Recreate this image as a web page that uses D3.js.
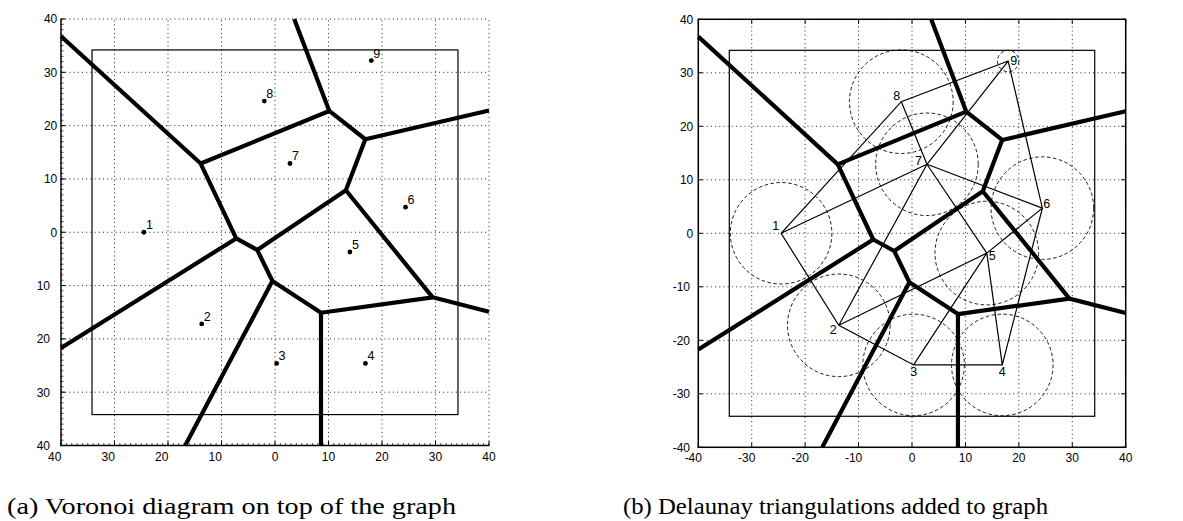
<!DOCTYPE html>
<html>
<head>
<meta charset="utf-8">
<script src="https://cdn.jsdelivr.net/npm/d3@7"></script>
<style>
  body { margin: 0; background: #fff; }
  svg { display: block; }
  .sans { font-family: "Liberation Sans", Arial, Helvetica, sans-serif; }
  .serif { font-family: "Liberation Serif", "Times New Roman", serif; }
</style>
</head>
<body>
<script>
// sensor sites (data units)
const siteIds = ['1', '2', '3', '4', '5', '6', '7', '8', '9'];
const siteX   = [-24.5, -13.7, 0.3, 16.9, 14.0, 24.4, 2.8, -2.0, 18.0];
const siteY   = [0.0, -17.2, -24.6, -24.6, -3.7, 4.7, 12.9, 24.6, 32.2];
// dashed circle radius around each site (panel b)
const siteR   = [9.5, 9.6, 9.5, 9.5, 9.7, 9.6, 9.6, 9.7, 2.0];
// half side of the inner square area
const areaHalf = 34.2;
const tickVals = [-40, -30, -20, -10, 0, 10, 20, 30, 40];
const captions = ['(a) Voronoi diagram on top of the graph', '(b) Delaunay triangulations added to graph'];

const width = 1183, height = 521;
const svg = d3.select('body').append('svg')
  .attr('width', width)
  .attr('height', height);

const points = siteX.map((d, i) => [d, siteY[i]]);
const delaunay = d3.Delaunay.from(points);
const voronoi = delaunay.voronoi([-40, -40, 40, 40]);

// label placement, panel b (dx, dy, anchor)
const labelB = [
  [-2, -3, 'end'], [-2, 9, 'end'], [0, 11, 'middle'], [0, 11, 'middle'], [2, 7, 'start'],
  [1, 0, 'start'], [-5, 1, 'end'], [-1, -2, 'end'], [2, 4, 'start']
];

// mapping context: library draws in data units, we write pixels
function proxy(x, y) {
  const p = d3.path();
  return {
    p,
    moveTo: (a, b) => p.moveTo(x(a), y(b)),
    lineTo: (a, b) => p.lineTo(x(a), y(b)),
    closePath: () => p.closePath()
  };
}

function panel(opt) {
  const x = d3.scaleLinear().domain([-40, 40]).range(opt.xr);
  const y = d3.scaleLinear().domain([-40, 40]).range(opt.yr);
  const g = svg.append('g');

  // dotted grid
  g.selectAll('.gx').data(tickVals).enter().append('line')
    .attr('x1', d => x(d)).attr('x2', d => x(d))
    .attr('y1', y(-40)).attr('y2', y(40))
    .attr('stroke', '#222').attr('stroke-width', 1)
    .attr('stroke-dasharray', '1,3.2');
  g.selectAll('.gy').data(tickVals).enter().append('line')
    .attr('y1', d => y(d)).attr('y2', d => y(d))
    .attr('x1', x(-40)).attr('x2', x(40))
    .attr('stroke', '#222').attr('stroke-width', 1)
    .attr('stroke-dasharray', '1,3.2');

  // inner area square
  g.append('rect')
    .attr('x', x(-areaHalf)).attr('y', y(areaHalf))
    .attr('width', x(areaHalf) - x(-areaHalf))
    .attr('height', y(-areaHalf) - y(areaHalf))
    .attr('fill', 'none').attr('stroke', '#000').attr('stroke-width', 1.2);

  if (opt.delaunay) {
    g.selectAll('circle.range').data(points).enter().append('circle')
      .attr('cx', d => x(d[0])).attr('cy', d => y(d[1]))
      .attr('r', (d, i) => x(siteR[i]) - x(0))
      .attr('fill', 'none').attr('stroke', '#000').attr('stroke-width', 0.9)
      .attr('stroke-dasharray', '3.5,2.5');

    const dc = proxy(x, y);
    delaunay.render(dc);
    g.append('path').attr('d', dc.p.toString())
      .attr('fill', 'none').attr('stroke', '#000').attr('stroke-width', 1.2);
  }

  const vc = proxy(x, y);
  voronoi.render(vc);
  g.append('path').attr('d', vc.p.toString())
    .attr('fill', 'none').attr('stroke', '#000').attr('stroke-width', 4.2)
    .attr('stroke-linejoin', 'round');

  if (!opt.delaunay) {
    g.selectAll('circle.site').data(points).enter().append('circle')
      .attr('cx', d => x(d[0])).attr('cy', d => y(d[1]))
      .attr('r', 2.4).attr('fill', '#000');
    g.selectAll('text.site').data(points).enter().append('text')
      .attr('class', 'sans')
      .attr('x', d => x(d[0]) + 2).attr('y', d => y(d[1]) - 3)
      .attr('font-size', '12.5px')
      .text((d, i) => siteIds[i]);
  } else {
    g.selectAll('text.site').data(points).enter().append('text')
      .attr('class', 'sans')
      .attr('x', (d, i) => x(d[0]) + labelB[i][0])
      .attr('y', (d, i) => y(d[1]) + labelB[i][1])
      .attr('text-anchor', (d, i) => labelB[i][2])
      .attr('font-size', '12.5px')
      .text((d, i) => siteIds[i]);
  }

  // axes
  const ax = g.append('g');
  if (opt.box) {
    ax.append('rect')
      .attr('x', x(-40)).attr('y', y(40))
      .attr('width', x(40) - x(-40)).attr('height', y(-40) - y(40))
      .attr('fill', 'none').attr('stroke', '#000').attr('stroke-width', 1.5);
    tickVals.forEach(t => {
      ax.append('line').attr('x1', x(t)).attr('x2', x(t)).attr('y1', y(-40)).attr('y2', y(-40) - 4.5).attr('stroke', '#000');
      ax.append('line').attr('x1', x(t)).attr('x2', x(t)).attr('y1', y(40)).attr('y2', y(40) + 4.5).attr('stroke', '#000');
      ax.append('line').attr('y1', y(t)).attr('y2', y(t)).attr('x1', x(-40)).attr('x2', x(-40) + 4.5).attr('stroke', '#000');
      ax.append('line').attr('y1', y(t)).attr('y2', y(t)).attr('x1', x(40)).attr('x2', x(40) - 4.5).attr('stroke', '#000');
    });
  } else {
    ax.append('path')
      .attr('d', `M${x(-40)},${y(40)}V${y(-40)}H${x(40)}`)
      .attr('fill', 'none').attr('stroke', '#000').attr('stroke-width', 1.4);
    const minor = d3.range(-40, 40.5, 1);
    ax.selectAll('.mx').data(minor).enter().append('line')
      .attr('x1', d => x(d)).attr('x2', d => x(d))
      .attr('y1', y(-40) + 0.5).attr('y2', y(-40) - 2.5)
      .attr('stroke', '#000').attr('stroke-width', 0.7);
    ax.selectAll('.my').data(minor).enter().append('line')
      .attr('y1', d => y(d)).attr('y2', d => y(d))
      .attr('x1', x(-40) - 0.5).attr('x2', x(-40) + 2.5)
      .attr('stroke', '#000').attr('stroke-width', 0.7);
    tickVals.forEach(t => {
      ax.append('line').attr('x1', x(t)).attr('x2', x(t)).attr('y1', y(-40)).attr('y2', y(-40) - 4.5).attr('stroke', '#000');
      ax.append('line').attr('y1', y(t)).attr('y2', y(t)).attr('x1', x(-40)).attr('x2', x(-40) + 4.5).attr('stroke', '#000');
    });
  }

  // tick labels
  ax.selectAll('.tx').data(tickVals).enter().append('text')
    .attr('class', 'sans')
    .attr('x', d => x(d) + (d < 0 ? opt.negShiftX : 0))
    .attr('y', y(-40) + 15)
    .attr('text-anchor', 'middle')
    .attr('font-size', '12px')
    .text(opt.fmt);
  ax.selectAll('.ty').data(tickVals).enter().append('text')
    .attr('class', 'sans')
    .attr('x', d => d < 0 ? opt.yLabNeg : opt.yLabPos)
    .attr('y', d => y(d))
    .attr('dy', '0.36em')
    .attr('text-anchor', 'end')
    .attr('font-size', '12px')
    .text(opt.fmt);

  svg.append('text')
    .attr('class', 'serif')
    .attr('x', opt.cap[0]).attr('y', 514)
    .attr('textLength', opt.cap[1] - opt.cap[0])
    .attr('lengthAdjust', 'spacingAndGlyphs')
    .attr('font-size', '24px')
    .text(opt.caption);
}

panel({
  xr: [61, 489], yr: [445.5, 19],
  box: false, delaunay: false,
  fmt: d => String(Math.abs(d)),
  negShiftX: -6.2, yLabPos: 57.3, yLabNeg: 50,
  cap: [7, 456], caption: captions[0]
});

panel({
  xr: [698.3, 1125.7], yr: [447.3, 19.3],
  box: true, delaunay: true,
  fmt: d => String(d),
  negShiftX: -5, yLabPos: 693.3, yLabNeg: 690,
  cap: [623, 1048], caption: captions[1]
});
</script>
</body>
</html>
